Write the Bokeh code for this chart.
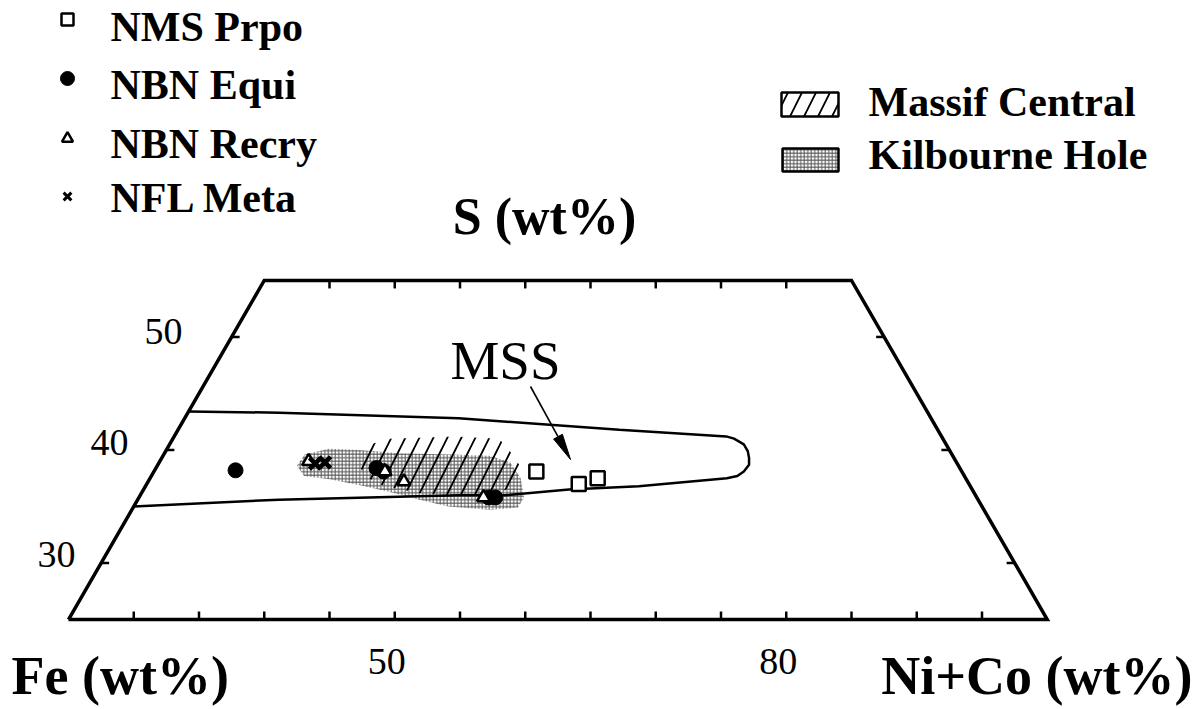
import numpy as np
from bokeh.plotting import figure
from bokeh.core.properties import value
from bokeh.embed import file_html
from bokeh.resources import INLINE

# ---------------------------------------------------------------
# Compositions in wt%: Ni+Co and S (Fe is the balance to 100)
# ---------------------------------------------------------------
nms_prpo_ni = [29.3, 33.1, 34.3]
nms_prpo_s = [38.1, 37.0, 37.5]

nbn_equi_ni = [6.2, 16.9, 17.6, 26.8, 27.3]
nbn_equi_s = [38.2, 38.4, 38.1, 35.8, 35.8]

nbn_recry_ni = [11.4, 17.7, 19.6, 26.4]
nbn_recry_s = [39.0, 38.1, 37.2, 35.8]

nfl_meta_ni = [12.0, 12.7]
nfl_meta_s = [38.8, 38.9]

# monosulfide solid solution field
mss_ni = [0.0, 7.0, 21.0, 33.8, 42.3, 43.0, 44.0, 44.6, 45.0, 45.3, 45.2,
          44.9, 44.2, 37.8, 32.6, 28.0, 24.4, 10.8, 0.0]
mss_s = [43.4, 43.3, 42.8, 41.8, 41.2, 41.0, 40.5, 39.9, 39.3, 38.7, 38.1,
         37.7, 37.5, 36.8, 36.5, 36.0, 36.0, 35.6, 35.0]

# Massif Central field
massif_ni = [15.7, 15.4, 16.6, 21.5, 25.0, 26.6, 28.0, 28.5, 27.4, 24.4,
             21.3, 18.3, 16.3]
massif_s = [38.4, 40.5, 41.0, 41.2, 41.0, 39.7, 38.4, 37.1, 36.2, 36.0,
            36.2, 36.8, 37.7]

# Kilbourne Hole field
kilb_ni = [10.7, 10.8, 12.4, 14.8, 18.0, 21.9, 25.0, 26.9, 28.4, 29.5,
           29.5, 27.4, 24.1, 21.6, 18.9, 16.3, 13.8, 11.7]
kilb_s = [38.6, 39.6, 40.1, 40.0, 39.7, 39.6, 39.5, 38.9, 37.5, 35.8,
          34.9, 34.7, 35.0, 35.6, 36.3, 36.9, 37.4, 37.7]

# diagram section limits and ticks
s_min, s_max = 25, 55
s_ticks = [30, 40, 50]
s_tick_labels = ["30", "40", "50"]
bottom_tick_ni = [5, 10, 15, 20, 25, 30, 35, 40, 45, 50, 55, 60, 65, 70]
top_tick_ni = [5, 10, 15, 20, 25, 30, 35, 40]
bottom_label_ni = [25, 55]
bottom_labels = ["50", "80"]

legend_points = ["NMS Prpo", "NBN Equi", "NBN Recry", "NFL Meta"]
legend_fields = ["Massif Central", "Kilbourne Hole"]

# ---------------------------------------------------------------
SQ = np.sqrt(3) / 2.0


def tern(ni, s):
    ni = np.asarray(ni, dtype=float)
    s = np.asarray(s, dtype=float)
    return ni + s / 2.0, s * SQ


W, H = 1201, 709
PX = 13.05                       # pixels per composition unit
X0 = 12.5 - 68 / PX              # data x at left page edge
YT = s_min * SQ + 619 / PX       # data y at top page edge


def at(x, y):
    """page position (pixels from top-left) -> data coordinates"""
    return X0 + x / PX, YT - y / PX


def base_at(x, y, size):
    """page position of a text baseline, corrected for the text box offset"""
    return at(x, y - 0.37 * size)


p = figure(width=W, height=H, x_range=(X0, X0 + W / PX),
           y_range=(YT - H / PX, YT), output_backend="svg",
           toolbar_location=None, min_border=0,
           x_axis_location=None, y_axis_location=None)
p.grid.visible = False
p.outline_line_color = None
p.background_fill_color = "white"
p.border_fill_color = "white"

SERIF = value("Liberation Serif")
STIPPLE = dict(hatch_pattern="+", hatch_scale=3.5, hatch_weight=1.0,
               hatch_color="#555555")
DIAG = dict(hatch_pattern="/", hatch_scale=28, hatch_weight=1.8,
            hatch_color="black")

# ---- shaded fields ----
kx, ky = tern(kilb_ni, kilb_s)
p.patch(kx, ky, fill_color=None, line_color=None, **STIPPLE)
mx, my = tern(massif_ni, massif_s)
p.patch(mx, my, fill_color=None, line_color=None, **DIAG)

# ---- MSS outline ----
ox, oy = tern(mss_ni, mss_s)
p.line(ox, oy, line_color="black", line_width=2.5)

# ---- frame of the section ----
fx, fy = tern([0, 100 - s_min, 100 - s_max, 0, 0],
              [s_min, s_min, s_max, s_max, s_min])
p.line(fx, fy, line_color="black", line_width=3.5, line_join="miter")

tl = 8 / PX
bx, by = tern(bottom_tick_ni, [s_min] * len(bottom_tick_ni))
p.segment(bx, by, bx, by + tl, line_color="black", line_width=2.5)
tx, ty = tern(top_tick_ni, [s_max] * len(top_tick_ni))
p.segment(tx, ty, tx, ty - tl, line_color="black", line_width=2.5)
lx, ly = tern([0] * 3, s_ticks)
p.segment(lx, ly, lx + tl, ly, line_color="black", line_width=2.5)
rx, ry = tern([100 - s for s in s_ticks], s_ticks)
p.segment(rx, ry, rx - tl, ry, line_color="black", line_width=2.5)

# S tick labels
lab_pos = [base_at(75, 568, 38), base_at(128, 456, 38), base_at(182, 345, 38)]
p.text([q[0] for q in lab_pos], [q[1] for q in lab_pos], text=s_tick_labels,
       text_font=SERIF, text_font_size="38px", text_align="right",
       text_baseline="alphabetic", text_color="black")
blx, _ = tern(bottom_label_ni, [s_min] * 2)
p.text(blx - 8 / PX, [base_at(0, 675, 38)[1]] * 2, text=bottom_labels,
       text_font=SERIF, text_font_size="38px", text_align="center",
       text_baseline="alphabetic", text_color="black")

# ---- data points ----
x, y = tern(nms_prpo_ni, nms_prpo_s)
p.scatter(x, y, marker="square", size=14, fill_color="white",
          line_color="black", line_width=2.5)
x, y = tern(nbn_equi_ni, nbn_equi_s)
p.scatter(x, y, marker="circle", size=15, fill_color="black",
          line_color="black")
x, y = tern(nbn_recry_ni, nbn_recry_s)
p.scatter(x, y, marker="triangle", size=13, fill_color="white",
          line_color="black", line_width=2.5)
x, y = tern(nfl_meta_ni, nfl_meta_s)
p.scatter(x, y, marker="x", size=16, line_color="black", line_width=4.5)

# ---- MSS label and pointer ----
mx0, my0 = base_at(505, 380, 55)
p.text([mx0], [my0], text=["MSS"], text_font=SERIF, text_font_size="55px",
       text_align="center", text_baseline="alphabetic", text_color="black")
ax0, ay0 = at(530, 386)
ax1, ay1 = at(570, 459)
d = np.array([ax1 - ax0, ay1 - ay0])
d /= np.hypot(*d)
nrm = np.array([-d[1], d[0]])
hl, hw = 26 / PX, 5 / PX
base = np.array([ax1, ay1]) - d * hl
p.segment([ax0], [ay0], [base[0]], [base[1]], line_color="black",
          line_width=1.6)
p.patch([ax1, base[0] + nrm[0] * hw, base[0] - nrm[0] * hw],
        [ay1, base[1] + nrm[1] * hw, base[1] - nrm[1] * hw],
        fill_color="black", line_color="black", line_width=1)

# ---- axis titles ----
tx0, ty0 = base_at(544, 235, 52)
p.text([tx0], [ty0], text=["S (wt%)"], text_font=SERIF,
       text_font_style="bold", text_font_size="52px", text_align="center",
       text_baseline="alphabetic", text_color="black")
fx0, fy0 = base_at(11, 695, 54)
p.text([fx0], [fy0], text=["Fe (wt%)"], text_font=SERIF,
       text_font_style="bold", text_font_size="54px", text_align="left",
       text_baseline="alphabetic", text_color="black")
nx0, ny0 = base_at(1192, 695, 54)
p.text([nx0], [ny0], text=["Ni+Co (wt%)"], text_font=SERIF,
       text_font_style="bold", text_font_size="54px", text_align="right",
       text_baseline="alphabetic", text_color="black")

# ---- legend: sample groups ----
rows_y = [42, 100, 159, 213]
mk_y = [19, 78, 138, 196]
lxs = [base_at(110, yy, 42) for yy in rows_y]
p.text([q[0] for q in lxs], [q[1] for q in lxs], text=legend_points,
       text_font=SERIF, text_font_style="bold", text_font_size="42px",
       text_align="left", text_baseline="alphabetic", text_color="black")
m = [at(67, yy) for yy in mk_y]
p.scatter([m[0][0]], [m[0][1]], marker="square", size=12, fill_color="white",
          line_color="black", line_width=2.5)
p.scatter([m[1][0]], [m[1][1]], marker="circle", size=14, fill_color="black",
          line_color="black")
p.scatter([m[2][0]], [m[2][1]], marker="triangle", size=11, fill_color="white",
          line_color="black", line_width=2.5)
p.scatter([m[3][0]], [m[3][1]], marker="x", size=11, line_color="black",
          line_width=3)

# ---- legend: fields ----
b1l, b1t = at(781, 92)
b1r, b1b = at(838, 116)
p.quad(left=[b1l], right=[b1r], top=[b1t], bottom=[b1b], fill_color="white",
       line_color="black", line_width=2.5, **DIAG)
b2l, b2t = at(782, 148)
b2r, b2b = at(838, 171)
p.quad(left=[b2l], right=[b2r], top=[b2t], bottom=[b2b], fill_color="white",
       line_color="black", line_width=2.5, **STIPPLE)
fl = [base_at(868, 117, 42), base_at(868, 170, 42)]
p.text([q[0] for q in fl], [q[1] for q in fl], text=legend_fields,
       text_font=SERIF, text_font_style="bold", text_font_size="42px",
       text_align="left", text_baseline="alphabetic", text_color="black")

open("out.html", "w").write(file_html(p, INLINE))
